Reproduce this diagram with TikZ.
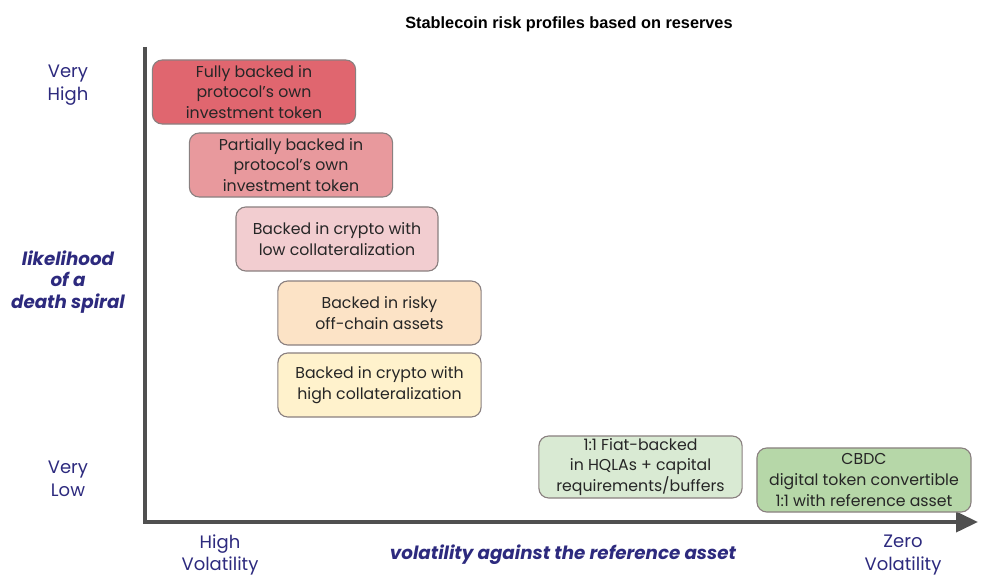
\documentclass[tikz,border=0pt]{standalone}
\usepackage{fontspec}
\setmainfont{Poppins}
\newfontfamily\titlefont{Liberation Sans}
\usetikzlibrary{arrows.meta}

\definecolor{axisgray}{HTML}{505050}
\definecolor{boxline}{HTML}{8A8080}
\definecolor{labelblue}{HTML}{2D2A7E}
\definecolor{redfull}{HTML}{E0666F}
\definecolor{redpart}{HTML}{E8999D}
\definecolor{pinklow}{HTML}{F2CDD0}
\definecolor{peach}{HTML}{FCE3C6}
\definecolor{cream}{HTML}{FFF2CC}
\definecolor{lightgreen}{HTML}{D9EAD3}
\definecolor{midgreen}{HTML}{B6D7A8}

\tikzset{
  riskbox/.style={draw=boxline, line width=0.8pt, rounded corners=7pt, inner sep=0pt,
    minimum width=5.08cm, minimum height=1.6cm, align=center, text=black!85,
    font=\fontsize{11.2}{14.6}\selectfont},
  axislabel/.style={text=labelblue, align=center, font=\fontsize{12.8}{16.2}\selectfont},
  axisname/.style={text=labelblue, align=center, font=\fontsize{13}{15.5}\selectfont\bfseries\itshape}
}

\begin{document}
\begin{tikzpicture}[x=0.025cm, y=-0.025cm]
\useasboundingbox (0,0) rectangle (981,576);

% title
\node (title) at (569,24) {\titlefont\bfseries\fontsize{11.6}{13}\selectfont Stablecoin risk profiles based on reserves};

% axes
\coordinate (origin) at (145,522);
\coordinate (ytop) at (145,47);
\coordinate (xend) at (978,522);
\draw[axisgray, line width=2.8pt] (ytop) -- (origin);
\draw[axisgray, line width=2.8pt, -{Triangle[length=0.55cm, width=0.5cm]}] ([xshift=-1.4pt]origin) -- (xend);

% reserve types, riskiest first
\node[riskbox, fill=redfull] (full) at (254,92) {Fully backed in\\protocol's own\\investment token};
\node[riskbox, fill=redpart] (partial) at (291,165) {Partially backed in\\protocol's own\\investment token};
\node[riskbox, fill=pinklow, minimum width=5.05cm] (lowcol) at (337,239) {Backed in crypto with\\low collateralization};
\node[riskbox, fill=peach] (offchain) at (379.5,313) {Backed in risky\\off-chain assets};
\node[riskbox, fill=cream] (highcol) at (379.5,385) {Backed in crypto with\\high collateralization};
\node[riskbox, fill=lightgreen, minimum height=1.55cm] (fiat) at (640.5,467) {1:1 Fiat-backed\\in HQLAs + capital\\requirements/buffers};
\node[riskbox, fill=midgreen, minimum width=5.35cm] (cbdc) at (864,480) {CBDC\\digital token convertible\\1:1 with reference asset};

% axis labels
\node[axislabel] (vhigh) at (68,85) {Very\\High};
\node[axisname] (spiral) at (68,282) {likelihood\\of a\\death spiral};
\node[axislabel] (vlow) at (68,479) {Very\\Low};
\node[axislabel] (hvol) at (220,555) {High\\Volatility};
\node[axisname] (vol) at (563,555) {volatility against the reference asset};
\node[axislabel] (zvol) at (903,555) {Zero\\Volatility};
\end{tikzpicture}
\end{document}
